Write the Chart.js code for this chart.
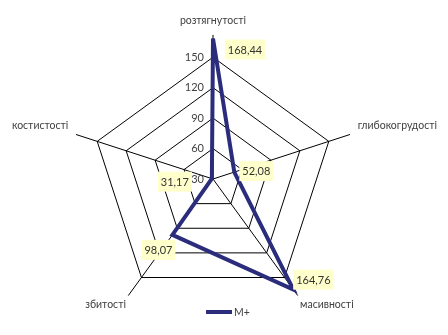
<!DOCTYPE html>
<html>
<head>
<meta charset="utf-8">
<script src="https://cdn.jsdelivr.net/npm/chart.js@4"></script>
<style>
  html, body { margin: 0; padding: 0; background: #fff; }
  .wrap { position: relative; width: 448px; height: 335px; }
  canvas { display: block; }
  #legend { position: absolute; left: 0; right: 0; top: 306px; display: flex; justify-content: center;
    font: 10.5px Lato, sans-serif; color: #404040; padding-left: 8px; }
  #legend .item { display: flex; align-items: center; }
  #legend .swatch { display: inline-block; width: 26px; height: 4px; margin-right: 2px; }
</style>
</head>
<body>
<div class="wrap">
  <canvas id="chart" width="448" height="335"></canvas>
  <div id="legend"></div>
</div>
<script>
const categories = ["розтягнутості", "глибокогрудості", "масивності", "збитості", "костистості"];
const seriesName = "M+";
const seriesValues = [168.44, 52.08, 164.76, 98.07, 31.17];
const tickValues = [30, 60, 90, 120, 150];

const navy = "#2b2d7c";
const labelOffsets = [[32, 11], [22, -1], [20, -10], [-14, 15], [-37, 3]];
const pointLabelPadding = [8, 8, 4, 4, 8];

// tick numbers sit left of the vertical axis, data labels in yellow boxes
const extras = {
  id: "extras",
  afterDraw(chart) {
    const c = chart.ctx;
    const r = chart.scales.r;
    c.save();
    c.font = "11px Lato";
    c.fillStyle = "#404040";
    c.textAlign = "right";
    c.textBaseline = "middle";
    tickValues.forEach((v) => {
      const d = r.getDistanceFromCenterForValue(v);
      c.fillText(String(v), r.xCenter - 9, r.yCenter - d);
    });

    const meta = chart.getDatasetMeta(0);
    c.textAlign = "center";
    meta.data.forEach((pt, i) => {
      const txt = seriesValues[i].toFixed(2).replace(".", ",");
      const x = pt.x + labelOffsets[i][0];
      const y = pt.y + labelOffsets[i][1];
      const w = c.measureText(txt).width + 6;
      c.fillStyle = "#ffffcc";
      c.fillRect(x - w / 2, y - 10, w, 20);
      c.fillStyle = "#333";
      c.fillText(txt, x, y + 0.5);
    });
    c.restore();
  },
};

// legend built from the chart's own legend items
const htmlLegend = {
  id: "htmlLegend",
  afterUpdate(chart) {
    const box = document.getElementById("legend");
    box.innerHTML = "";
    const items = chart.options.plugins.legend.labels.generateLabels(chart);
    items.forEach((item) => {
      const el = document.createElement("span");
      el.className = "item";
      const sw = document.createElement("span");
      sw.className = "swatch";
      sw.style.background = item.strokeStyle;
      el.appendChild(sw);
      el.appendChild(document.createTextNode(item.text));
      box.appendChild(el);
    });
  },
};

new Chart(document.getElementById("chart"), {
  type: "radar",
  data: {
    labels: categories,
    datasets: [
      {
        label: seriesName,
        data: seriesValues,
        borderColor: navy,
        backgroundColor: navy,
        borderWidth: 4,
        borderJoinStyle: "miter",
        fill: false,
        pointRadius: 0,
        clip: false,
      },
    ],
  },
  options: {
    responsive: false,
    animation: false,
    layout: { padding: { top: 3, left: 0, right: 0, bottom: 0 } },
    scales: {
      r: {
        min: 30,
        max: 172,
        ticks: { display: false, stepSize: 30 },
        grid: {
          color: (ctx) => (ctx.tick && ctx.tick.value > 150 ? "rgba(0,0,0,0)" : "#000"),
          lineWidth: 1,
        },
        angleLines: { color: "#000", lineWidth: 1 },
        pointLabels: {
          font: { family: "Lato", size: 10.5 },
          color: "#404040",
          padding: (ctx) => pointLabelPadding[ctx.index],
        },
      },
    },
    plugins: {
      legend: { display: false },
      tooltip: { enabled: false },
    },
  },
  plugins: [extras, htmlLegend],
});
</script>
</body>
</html>
